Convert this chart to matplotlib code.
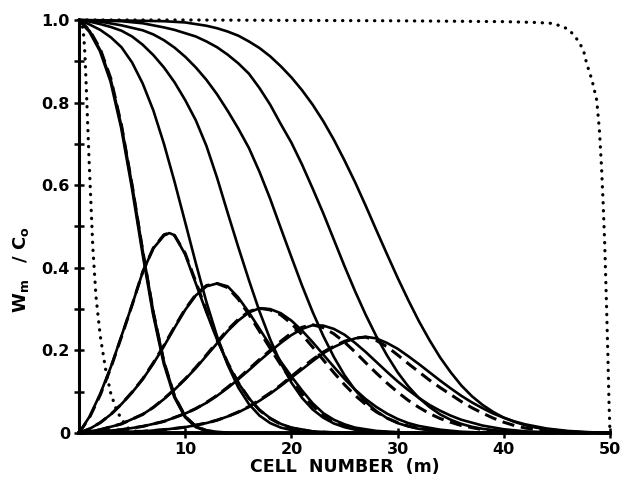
import matplotlib
matplotlib.use("Agg")
import matplotlib.pyplot as plt
from matplotlib.ticker import FixedLocator, MultipleLocator

# ---------------- data ----------------
# solid S-shaped curves (W_m / C_o versus cell number m)
S1_x = [0, 1, 2, 3, 4, 5, 6, 7, 8, 9, 10, 11, 12, 13, 14]
S1_y = [1.0, 0.972, 0.925, 0.851, 0.739, 0.595, 0.436, 0.288, 0.169, 0.087, 0.039, 0.015, 0.005, 0.002, 0.0]
S1d_y = [1.0, 0.975, 0.930, 0.858, 0.745, 0.600, 0.441, 0.292, 0.172, 0.089, 0.040, 0.016, 0.006, 0.002, 0.0]

S2_x = [0, 1, 2, 3, 4, 5, 6, 7, 8, 9, 10, 11, 12, 13, 14, 15, 16, 17, 18, 19, 20, 21, 22, 24]
S2_y = [1.0, 0.989, 0.976, 0.958, 0.934, 0.897, 0.846, 0.781, 0.700, 0.608, 0.510, 0.411, 0.317,
        0.234, 0.165, 0.110, 0.070, 0.042, 0.024, 0.013, 0.007, 0.003, 0.001, 0.0]

S3_x = [0, 1, 2, 3, 4, 5, 6, 7, 8, 9, 10, 11, 12, 13, 14, 15, 16, 17, 18, 19, 20, 21, 22, 23, 24,
        25, 26, 27, 28, 30]
S3_y = [1.0, 0.996, 0.990, 0.983, 0.974, 0.960, 0.940, 0.915, 0.885, 0.849, 0.806, 0.757, 0.695,
        0.618, 0.533, 0.450, 0.370, 0.294, 0.227, 0.169, 0.122, 0.085, 0.057, 0.037, 0.023,
        0.014, 0.008, 0.004, 0.002, 0.0]

S4_x = [0, 2, 4, 5, 6, 7, 8, 9, 10, 11, 12, 13, 14, 15, 16, 17, 18, 19, 20, 21, 22, 23, 24, 25,
        26, 27, 28, 29, 30, 31, 32, 34, 36, 38]
S4_y = [1.0, 0.996, 0.987, 0.981, 0.975, 0.965, 0.951, 0.933, 0.911, 0.885, 0.855, 0.820, 0.780,
        0.737, 0.690, 0.632, 0.567, 0.496, 0.426, 0.357, 0.293, 0.235, 0.184, 0.140, 0.104,
        0.075, 0.053, 0.036, 0.024, 0.016, 0.010, 0.004, 0.001, 0.0]

S5_x = [0, 4, 6, 8, 9, 10, 11, 12, 13, 14, 15, 16, 17, 18, 19, 20, 21, 22, 23, 24, 25, 26, 27,
        28, 29, 30, 31, 32, 33, 34, 35, 36, 37, 38, 40, 42, 44]
S5_y = [1.0, 0.997, 0.992, 0.982, 0.976, 0.968, 0.960, 0.948, 0.934, 0.916, 0.895, 0.870, 0.835,
        0.795, 0.748, 0.703, 0.650, 0.592, 0.532, 0.468, 0.404, 0.343, 0.286, 0.234, 0.188,
        0.147, 0.113, 0.085, 0.063, 0.045, 0.032, 0.022, 0.015, 0.010, 0.004, 0.001, 0.0]

S6_x = [0, 6, 8, 10, 11, 12, 13, 14, 15, 16, 17, 18, 19, 20, 21, 22, 23, 24, 25, 26, 27, 28, 29,
        30, 31, 32, 33, 34, 35, 36, 37, 38, 39, 40, 41, 42, 43, 44, 46, 48, 50]
S6_y = [1.0, 0.998, 0.997, 0.994, 0.990, 0.986, 0.980, 0.972, 0.962, 0.948, 0.932, 0.912, 0.888,
        0.861, 0.830, 0.795, 0.755, 0.710, 0.660, 0.607, 0.550, 0.491, 0.433, 0.376, 0.322,
        0.271, 0.225, 0.183, 0.147, 0.115, 0.089, 0.068, 0.051, 0.037, 0.027, 0.019, 0.013,
        0.009, 0.004, 0.001, 0.0]

# bell-shaped curves (solid) and their dashed counterparts
B1_x = [0, 1, 2, 3, 4, 5, 6, 7, 8, 8.5, 9, 10, 11, 12, 13, 14, 15, 16, 17, 18, 19, 20, 22, 24, 26]
B1_y = [0, 0.040, 0.095, 0.160, 0.235, 0.310, 0.390, 0.447, 0.478, 0.484, 0.479, 0.432, 0.362,
        0.292, 0.226, 0.168, 0.121, 0.084, 0.056, 0.036, 0.022, 0.013, 0.004, 0.001, 0]
B1d_y = [0, 0.038, 0.092, 0.158, 0.233, 0.310, 0.390, 0.448, 0.480, 0.484, 0.478, 0.435, 0.366,
         0.296, 0.229, 0.170, 0.122, 0.084, 0.055, 0.035, 0.021, 0.012, 0.003, 0.001, 0]

B2_x = [0, 1, 2, 3, 4, 5, 6, 7, 8, 9, 10, 11, 12, 13, 14, 15, 16, 17, 18, 19, 20, 21, 22, 23, 24,
        25, 26, 28, 30, 32]
B2_y = [0, 0.010, 0.025, 0.045, 0.070, 0.098, 0.130, 0.168, 0.210, 0.255, 0.298, 0.333, 0.355,
        0.362, 0.355, 0.328, 0.292, 0.252, 0.212, 0.173, 0.137, 0.103, 0.072, 0.048, 0.032,
        0.021, 0.013, 0.005, 0.002, 0]
B2d_y = [0, 0.010, 0.025, 0.045, 0.070, 0.099, 0.131, 0.170, 0.212, 0.257, 0.300, 0.335, 0.357,
         0.362, 0.352, 0.324, 0.287, 0.246, 0.205, 0.165, 0.128, 0.095, 0.066, 0.043, 0.027,
         0.017, 0.010, 0.003, 0.001, 0]

B3_x = [0, 2, 4, 6, 7, 8, 9, 10, 11, 12, 13, 14, 15, 16, 17, 18, 19, 20, 21, 22, 23, 24, 25, 26,
        27, 28, 29, 30, 31, 32, 34, 36, 38, 40]
B3_y = [0, 0.008, 0.022, 0.045, 0.062, 0.082, 0.105, 0.130, 0.157, 0.187, 0.217, 0.247, 0.272,
        0.292, 0.302, 0.300, 0.290, 0.272, 0.248, 0.220, 0.190, 0.160, 0.131, 0.105, 0.082,
        0.063, 0.047, 0.034, 0.024, 0.017, 0.008, 0.003, 0.001, 0]
B3d_y = [0, 0.008, 0.022, 0.045, 0.062, 0.083, 0.106, 0.131, 0.159, 0.189, 0.220, 0.250, 0.275,
         0.294, 0.302, 0.298, 0.286, 0.265, 0.238, 0.208, 0.177, 0.146, 0.117, 0.091, 0.069,
         0.051, 0.036, 0.025, 0.017, 0.011, 0.004, 0.001, 0, 0]

B4_x = [0, 4, 6, 8, 10, 11, 12, 13, 14, 15, 16, 17, 18, 19, 20, 21, 22, 23, 24, 25, 26, 27, 28,
        29, 30, 31, 32, 33, 34, 35, 36, 38, 40, 42, 44, 46, 48]
B4_y = [0, 0.008, 0.016, 0.028, 0.047, 0.059, 0.073, 0.090, 0.109, 0.130, 0.152, 0.175, 0.197,
        0.218, 0.237, 0.252, 0.261, 0.260, 0.252, 0.238, 0.218, 0.196, 0.172, 0.148, 0.125,
        0.104, 0.085, 0.068, 0.054, 0.042, 0.032, 0.018, 0.009, 0.004, 0.002, 0.001, 0]
B4d_y = [0, 0.008, 0.016, 0.028, 0.047, 0.059, 0.074, 0.091, 0.111, 0.132, 0.155, 0.178, 0.200,
         0.222, 0.242, 0.256, 0.262, 0.255, 0.240, 0.220, 0.196, 0.170, 0.145, 0.121, 0.099,
         0.079, 0.062, 0.047, 0.035, 0.026, 0.018, 0.008, 0.003, 0.001, 0, 0, 0]

B5_x = [0, 6, 8, 10, 12, 13, 14, 15, 16, 17, 18, 19, 20, 21, 22, 23, 24, 25, 26, 27, 28, 29, 30,
        31, 32, 33, 34, 35, 36, 37, 38, 39, 40, 41, 42, 44, 46, 48, 50]
B5_y = [0, 0.004, 0.008, 0.014, 0.024, 0.031, 0.040, 0.050, 0.063, 0.078, 0.095, 0.114, 0.134,
        0.154, 0.174, 0.193, 0.208, 0.220, 0.229, 0.233, 0.229, 0.218, 0.204, 0.186, 0.167,
        0.147, 0.127, 0.108, 0.090, 0.074, 0.060, 0.047, 0.037, 0.028, 0.021, 0.011, 0.005,
        0.002, 0]
B5d_y = [0, 0.004, 0.008, 0.014, 0.024, 0.031, 0.040, 0.051, 0.064, 0.080, 0.097, 0.116, 0.137,
         0.158, 0.178, 0.196, 0.210, 0.222, 0.230, 0.232, 0.224, 0.209, 0.189, 0.168, 0.148,
         0.128, 0.110, 0.093, 0.076, 0.061, 0.048, 0.036, 0.026, 0.018, 0.012, 0.005, 0.002,
         0, 0]

# dotted curves
D1_x = [0, 0.3, 0.45, 0.55, 0.65, 0.8, 0.95, 1.1, 1.3, 1.6, 2.0, 2.5, 3.0, 3.5, 4.0, 4.7, 5.5, 6.5]
D1_y = [1.0, 0.99, 0.96, 0.92, 0.86, 0.76, 0.66, 0.57, 0.45, 0.33, 0.235, 0.155, 0.095, 0.058,
        0.033, 0.010, 0.003, 0.0]

D2_x = [0, 10, 20, 30, 40, 43, 44.4, 45.5, 46.2, 47.0, 47.5, 47.8, 48.3, 48.75, 49.0, 49.2,
        49.35, 49.5, 49.65, 49.8, 49.9, 50.0]
D2_y = [1.0, 1.0, 0.999, 0.998, 0.996, 0.994, 0.992, 0.985, 0.975, 0.950, 0.927, 0.895, 0.855,
        0.806, 0.735, 0.645, 0.560, 0.460, 0.330, 0.190, 0.080, 0.0]

x_ticks = [10, 20, 30, 40, 50]
x_tick_labels = ["10", "20", "30", "40", "50"]
y_ticks = [0, 0.2, 0.4, 0.6, 0.8, 1.0]
y_tick_labels = ["0", "0.2", "0.4", "0.6", "0.8", "1.0"]

# ---------------- drawing ----------------
fig = plt.figure(figsize=(6.31, 4.86), dpi=100)
ax = fig.add_axes([0.1252, 0.1091, 0.8415, 0.8498])
ax.set_xlim(0, 50)
ax.set_ylim(0, 1.0)

LW = 1.9
DASH = (0, (4.0, 2.2))
DOT = (0, (0.1, 2.4))

common = dict(color="black", clip_on=False, solid_capstyle="round")

for xs, ys in [(S2_x, S2_y), (S3_x, S3_y), (S4_x, S4_y), (S5_x, S5_y), (S6_x, S6_y)]:
    ax.plot(xs, ys, lw=LW, **common)
ax.plot(S1_x, S1_y, lw=2.4, **common)
ax.plot(S1_x, S1d_y, lw=2.2, color="black", linestyle=DASH, clip_on=False)

for xs, ys, yd in [(B1_x, B1_y, B1d_y), (B2_x, B2_y, B2d_y), (B3_x, B3_y, B3d_y),
                   (B4_x, B4_y, B4d_y), (B5_x, B5_y, B5d_y)]:
    ax.plot(xs, ys, lw=LW, **common)
    ax.plot(xs, yd, lw=2.2, color="black", linestyle=DASH, clip_on=False)

ax.plot(D1_x, D1_y, lw=2.3, color="black", linestyle=DOT, dash_capstyle="round", clip_on=False)
ax.plot(D2_x, D2_y, lw=2.3, color="black", linestyle=DOT, dash_capstyle="round", clip_on=False)

for s in ["top", "right"]:
    ax.spines[s].set_visible(False)
ax.spines["left"].set_linewidth(2.2)
ax.spines["bottom"].set_linewidth(2.8)

ax.xaxis.set_major_locator(FixedLocator(x_ticks))
ax.set_xticklabels(x_tick_labels)
ax.yaxis.set_major_locator(FixedLocator(y_ticks))
ax.set_yticklabels(y_tick_labels)
ax.yaxis.set_minor_locator(MultipleLocator(0.1))

ax.tick_params(axis="both", which="major", direction="inout", length=7, width=1.8,
               labelsize=11.5, pad=3)
ax.tick_params(axis="y", which="minor", direction="inout", length=7, width=1.8)
for lab in ax.get_xticklabels() + ax.get_yticklabels():
    lab.set_fontweight("bold")

fig.text(0.547, 0.040, "CELL  NUMBER  (m)", ha="center", va="center",
         fontsize=12.5, fontweight="bold")
fig.text(0.033, 0.445, r"$\mathbf{W_m}$   $\mathbf{/\ C_o}$", ha="center", va="center",
         rotation=90, fontsize=13)

fig.savefig("out.png", dpi=100, facecolor="white")
